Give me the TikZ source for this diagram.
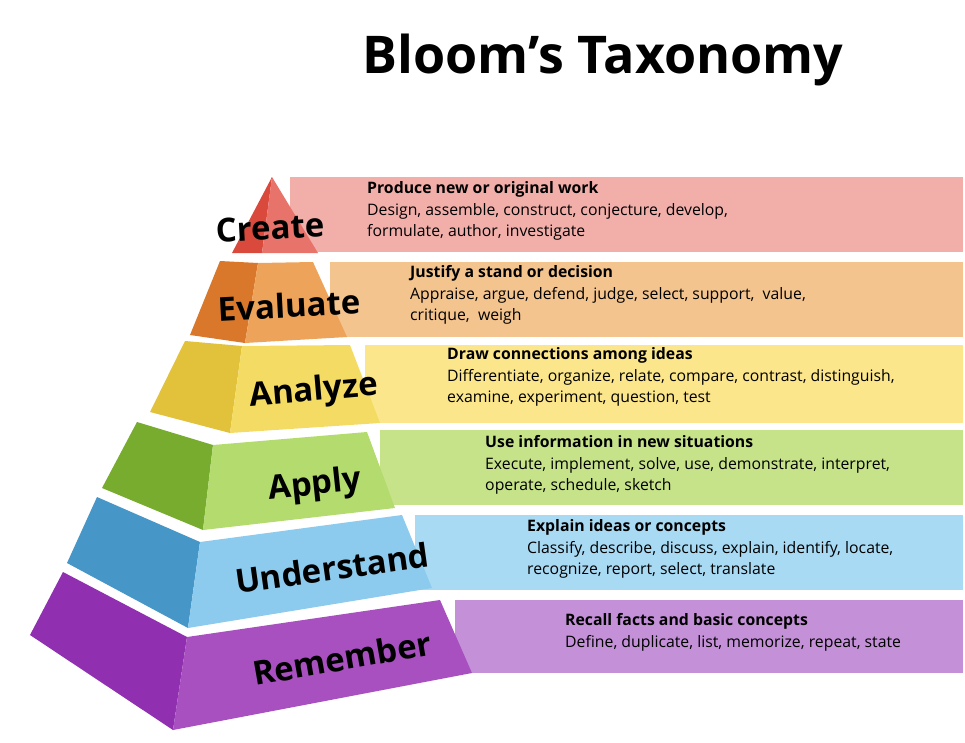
\documentclass[tikz,border=0pt]{standalone}
\usepackage{fontspec}
\setmainfont{Open Sans}
\begin{document}
\begin{tikzpicture}[x=1pt,y=-1pt,
  hd/.style={anchor=north west,inner sep=0pt,font=\fontsize{15.8}{21}\selectfont\bfseries},
  bd/.style={anchor=north west,inner sep=0pt,align=left,font=\fontsize{15.8}{21}\selectfont},
  lab/.style={inner sep=0pt,font=\fontsize{33}{36}\selectfont\bfseries}]
\useasboundingbox (0,0) rectangle (965,742);
\definecolor{cB}{HTML}{F2AFAA}\definecolor{cS}{HTML}{D94A3C}\definecolor{cF}{HTML}{E8736A}
\definecolor{eB}{HTML}{F4C48E}\definecolor{eS}{HTML}{D9782A}\definecolor{eF}{HTML}{EEA35A}
\definecolor{aB}{HTML}{FBE68C}\definecolor{aS}{HTML}{E2C23A}\definecolor{aF}{HTML}{F4DC64}
\definecolor{pB}{HTML}{C6E38A}\definecolor{pS}{HTML}{78AC2E}\definecolor{pF}{HTML}{B3DB6E}
\definecolor{uB}{HTML}{A8DAF4}\definecolor{uS}{HTML}{4696C8}\definecolor{uF}{HTML}{8CCBEE}
\definecolor{rB}{HTML}{C490D8}\definecolor{rS}{HTML}{9030B0}\definecolor{rF}{HTML}{A850C0}
\node[inner sep=0pt,font=\fontsize{52}{56}\selectfont\bfseries] (title) at (603,60) {Bloom’s Taxonomy};
% Create
\fill[cB] (290,177) rectangle (963,252);
\fill[cS] (272,177) -- (232,253) -- (262,253) -- cycle;
\fill[cF] (272,177) -- (262,253) -- (318,253) -- cycle;
% Evaluate
\fill[eB] (330,262) rectangle (963,337);
\fill[eS] (220,261) -- (258,263) -- (245,343) -- (190,335) -- cycle;
\fill[eF] (258,263) -- (313,262) -- (347,337) -- (245,343) -- cycle;
% Analyze
\fill[aB] (365,345) rectangle (963,423);
\fill[aS] (185,341) -- (242,346) -- (230,433) -- (150,412) -- cycle;
\fill[aF] (242,346) -- (350,345) -- (380,423) -- (230,433) -- cycle;
% Apply
\fill[pB] (380,430) rectangle (963,505);
\fill[pS] (137,422) -- (213,445) -- (203,530) -- (102,488) -- cycle;
\fill[pF] (213,445) -- (367,432) -- (395,508) -- (203,530) -- cycle;
% Understand
\fill[uB] (415,515) rectangle (963,590);
\fill[uS] (97,497) -- (200,542) -- (188,628) -- (67,563) -- cycle;
\fill[uF] (200,542) -- (402,515) -- (432,588) -- (188,628) -- cycle;
% Remember
\fill[rB] (455,600) rectangle (963,673);
\fill[rS] (63,572) -- (187,637) -- (173,730) -- (30,635) -- cycle;
\fill[rF] (187,637) -- (440,600) -- (472,673) -- (173,730) -- cycle;
% labels
\node[lab,rotate=3] (lc) at (270,228) {Create};
\node[lab,rotate=3] (le) at (289,305) {Evaluate};
\node[lab,rotate=5] (la) at (314,392) {Analyze};
\node[lab,rotate=6] (lp) at (315,486) {Apply};
\node[lab,rotate=8] (lu) at (332,568) {Understand};
\node[lab,rotate=10] (lr) at (342,658) {Remember};
% texts
\node[hd] (hc) at (367,181) {Produce new or original work};
\node[bd] (tc) at (367,203) {Design, assemble, construct, conjecture, develop,\\formulate, author, investigate};
\node[hd] (he) at (410,265) {Justify a stand or decision};
\node[bd] (te) at (410,287) {Appraise, argue, defend, judge, select, support,\ \ value,\\critique,\ \ weigh};
\node[hd] (ha) at (447,347) {Draw connections among ideas};
\node[bd] (ta) at (447,369) {Differentiate, organize, relate, compare, contrast, distinguish,\\examine, experiment, question, test};
\node[hd] (hp) at (485,435) {Use information in new situations};
\node[bd] (tp) at (485,457) {Execute, implement, solve, use, demonstrate, interpret,\\operate, schedule, sketch};
\node[hd] (hu) at (527,519) {Explain ideas or concepts};
\node[bd] (tu) at (527,541) {Classify, describe, discuss, explain, identify, locate,\\recognize, report, select, translate};
\node[hd] (hr) at (565,613) {Recall facts and basic concepts};
\node[bd] (tr) at (565,635) {Define, duplicate, list, memorize, repeat, state};
\end{tikzpicture}
\end{document}
